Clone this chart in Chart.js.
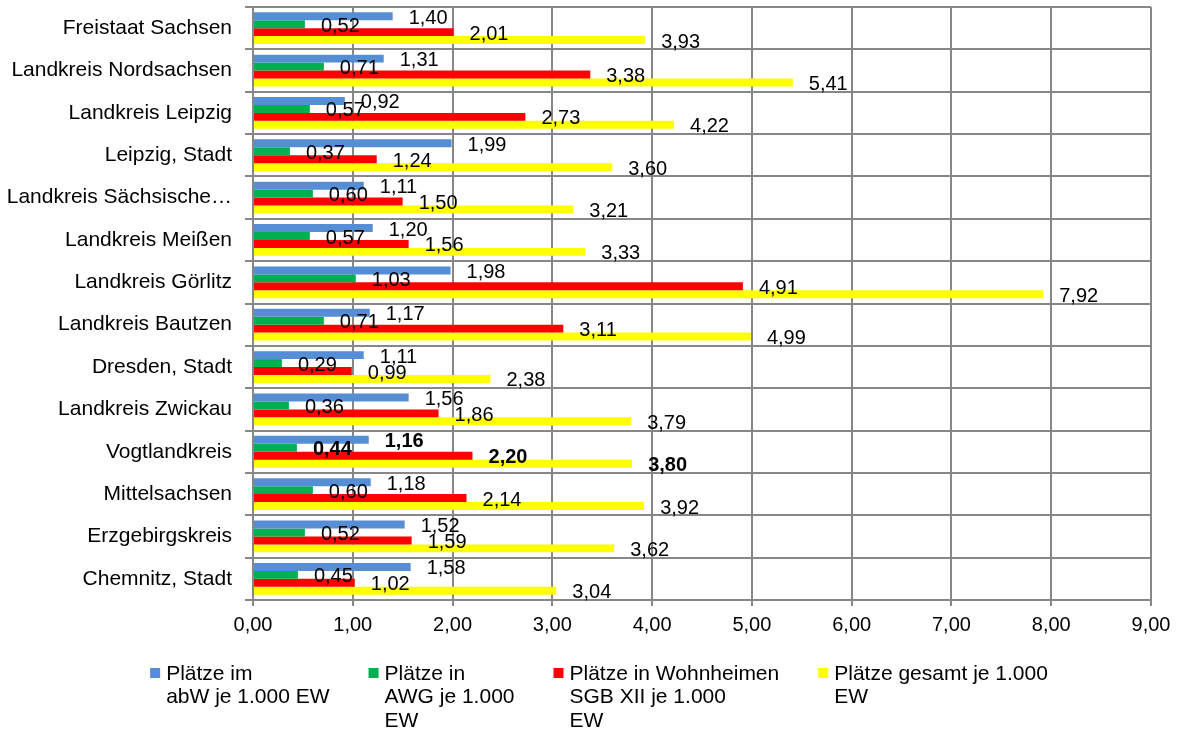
<!DOCTYPE html>
<html>
<head>
<meta charset="utf-8">
<script src="https://cdn.jsdelivr.net/npm/chart.js@4"></script>
<style>
  body { margin: 0; background: #fff; }
  #wrap { width: 1179px; height: 731px; }
</style>
</head>
<body>
<div id="wrap"><canvas id="myChart"></canvas></div>
<script>
// categories (Kreise) and the four series, places per 1.000 inhabitants
var regions = ["Freistaat Sachsen", "Landkreis Nordsachsen", "Landkreis Leipzig", "Leipzig, Stadt",
    "Landkreis Sächsische Schweiz-Osterzgebirge", "Landkreis Meißen", "Landkreis Görlitz", "Landkreis Bautzen",
    "Dresden, Stadt", "Landkreis Zwickau", "Vogtlandkreis", "Mittelsachsen", "Erzgebirgskreis", "Chemnitz, Stadt"];
var abW = [1.40, 1.31, 0.92, 1.99, 1.11, 1.20, 1.98, 1.17, 1.11, 1.56, 1.16, 1.18, 1.52, 1.58];
var awg = [0.52, 0.71, 0.57, 0.37, 0.60, 0.57, 1.03, 0.71, 0.29, 0.36, 0.44, 0.60, 0.52, 0.45];
var wohnheime = [2.01, 3.38, 2.73, 1.24, 1.50, 1.56, 4.91, 3.11, 0.99, 1.86, 2.20, 2.14, 1.59, 1.02];
var gesamt = [3.93, 5.41, 4.22, 3.60, 3.21, 3.33, 7.92, 4.99, 2.38, 3.79, 3.80, 3.92, 3.62, 3.04];
var seriesNames = [
    ["Plätze im", "abW je 1.000 EW"],
    ["Plätze in", "AWG je 1.000", "EW"],
    ["Plätze in Wohnheimen", "SGB XII je 1.000", "EW"],
    ["Plätze gesamt je 1.000", "EW"]
];
var xTicks = [0, 1, 2, 3, 4, 5, 6, 7, 8, 9];
var boldRegion = "Vogtlandkreis";

var FONT = "'Liberation Sans', Arial, sans-serif";
var GRID = "#878787";

function fmt(v) {
    return v.toFixed(2).replace(".", ",");
}

//value labels right of every bar
var barLabels = {
    id: "barLabels",
    afterDatasetsDraw: function (chart) {
        var ctx = chart.ctx;
        ctx.save();
        ctx.fillStyle = "#000";
        ctx.textAlign = "left";
        ctx.textBaseline = "middle";
        chart.data.datasets.forEach(function (ds, i) {
            chart.getDatasetMeta(i).data.forEach(function (bar, j) {
                var bold = chart.data.labels[j] === boldRegion;
                ctx.font = (bold ? "bold " : "") + "20px " + FONT;
                ctx.fillText(fmt(ds.data[j]), bar.x + 16, bar.y + 2);
            });
        });
        ctx.restore();
    }
};

//legend with wrapped names, like the office chart
var wrapLegend = {
    id: "wrapLegend",
    afterDraw: function (chart) {
        var ctx = chart.ctx;
        var box = 10, gap = 6, pad = 39, lineH = 23.5, top = 668;
        ctx.save();
        ctx.font = "21px " + FONT;
        var widths = chart.data.datasets.map(function (ds) {
            var w = 0;
            ds.label.forEach(function (t) { w = Math.max(w, ctx.measureText(t).width); });
            return box + gap + w;
        });
        var total = widths.reduce(function (a, b) { return a + b; }, 0) + pad * (widths.length - 1);
        var x = 599 - total / 2;
        ctx.textAlign = "left";
        ctx.textBaseline = "middle";
        chart.data.datasets.forEach(function (ds, i) {
            ctx.fillStyle = ds.backgroundColor;
            ctx.fillRect(x, top, box, box);
            ctx.fillStyle = "#000";
            ds.label.forEach(function (t, k) {
                ctx.fillText(t, x + box + gap, top + 6 + k * lineH);
            });
            x += widths[i] + pad;
        });
        ctx.restore();
    }
};

function main() {
    Chart.defaults.font.family = FONT;
    Chart.defaults.font.size = 20;
    Chart.defaults.color = "#000";

    var ctx = document.getElementById("myChart").getContext("2d");
    new Chart(ctx, {
        type: "bar",
        data: {
            labels: regions,
            datasets: [
                {label: seriesNames[0], data: abW, backgroundColor: "#558ed5"},
                {label: seriesNames[1], data: awg, backgroundColor: "#00b050"},
                {label: seriesNames[2], data: wohnheime, backgroundColor: "#ff0000"},
                {label: seriesNames[3], data: gesamt, backgroundColor: "#ffff00"}
            ]
        },
        options: {
            indexAxis: "y",
            responsive: true,
            maintainAspectRatio: false,
            animation: false,
            datasets: {
                bar: {categoryPercentage: 0.75, barPercentage: 1}
            },
            layout: {
                padding: {left: 0, top: 7, right: 28, bottom: 91}
            },
            plugins: {
                legend: {display: false},
                tooltip: {enabled: false}
            },
            scales: {
                x: {
                    min: xTicks[0],
                    max: xTicks[xTicks.length - 1],
                    afterBuildTicks: function (s) {
                        s.ticks = xTicks.map(function (v) { return {value: v}; });
                    },
                    ticks: {
                        padding: 7,
                        maxRotation: 0,
                        callback: function (v) { return fmt(v); }
                    },
                    grid: {color: GRID, lineWidth: 2, tickLength: 6},
                    border: {color: GRID, width: 2},
                    afterFit: function (s) { s.height = 40; }
                },
                y: {
                    ticks: {
                        padding: 13,
                        font: {size: 21},
                        callback: function (v) {
                            var t = this.getLabelForValue(v);
                            return t.length > 25 ? t.slice(0, 20) + "…" : t;
                        }
                    },
                    grid: {color: GRID, lineWidth: 2, tickLength: 8},
                    border: {color: GRID, width: 2},
                    afterFit: function (s) {
                        s.width = 253;
                        s.paddingTop = 0;
                        s.paddingBottom = 0;
                    }
                }
            }
        },
        plugins: [barLabels, wrapLegend]
    });
}

window.onload = main;
</script>
</body>
</html>
